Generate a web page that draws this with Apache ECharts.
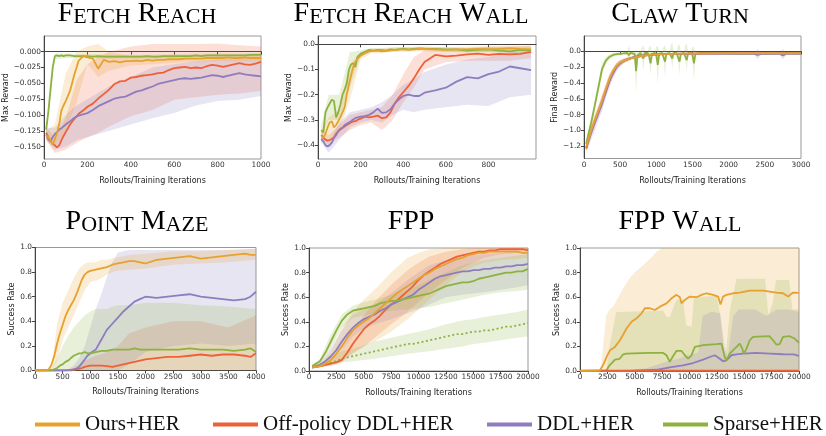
<!DOCTYPE html>
<html>
<head>
<meta charset="utf-8">
<script src="https://cdn.jsdelivr.net/npm/echarts@6/dist/echarts.min.js"></script>
<style>
  html, body { margin: 0; padding: 0; background: #fff; }
  #chart { width: 826px; height: 436px; }
</style>
</head>
<body>
<div id="chart"></div>
<script>
// ---- tick labels ----
var reachXTicks = [0, 200, 400, 600, 800, 1000];
var reachYTicks = [-0.15, -0.125, -0.1, -0.075, -0.05, -0.025, 0];
var wallXTicks = [0, 200, 400, 600, 800];
var wallYTicks = [-0.4, -0.3, -0.2, -0.1, 0];
var clawXTicks = [0, 500, 1000, 1500, 2000, 2500, 3000];
var clawYTicks = [-1.2, -1.0, -0.8, -0.6, -0.4, -0.2, 0];
var mazeXTicks = [0, 500, 1000, 1500, 2000, 2500, 3000, 3500, 4000];
var fppXTicks = [0, 2500, 5000, 7500, 10000, 12500, 15000, 17500, 20000];
var rateTicks = [0, 0.2, 0.4, 0.6, 0.8, 1.0];

// ---- Fetch Reach ----
var reachX = [10,20,30,40,50,60,70,80,90,100,120,140,160,180,200,225,250,275,300,325,350,375,400,425,450,475,500,525,550,575,600,625,650,675,700,725,750,775,800,825,850,875,900,925,950,975,1000];
var reachOurs = [-0.132,-0.135,-0.140,-0.147,-0.138,-0.128,-0.115,-0.093,-0.085,-0.078,-0.062,-0.036,-0.014,-0.007,-0.009,-0.011,-0.027,-0.013,-0.016,-0.015,-0.017,-0.015,-0.015,-0.014,-0.015,-0.013,-0.014,-0.013,-0.013,-0.012,-0.012,-0.012,-0.011,-0.011,-0.011,-0.011,-0.010,-0.010,-0.010,-0.010,-0.009,-0.010,-0.010,-0.009,-0.010,-0.010,-0.010];
var reachOff = [-0.128,-0.135,-0.141,-0.145,-0.148,-0.151,-0.148,-0.140,-0.133,-0.127,-0.115,-0.106,-0.098,-0.093,-0.087,-0.082,-0.074,-0.067,-0.060,-0.051,-0.047,-0.046,-0.041,-0.040,-0.038,-0.037,-0.036,-0.034,-0.033,-0.029,-0.026,-0.025,-0.024,-0.026,-0.025,-0.026,-0.023,-0.021,-0.022,-0.024,-0.022,-0.020,-0.018,-0.020,-0.021,-0.019,-0.016];
var reachDdl = [-0.131,-0.138,-0.142,-0.135,-0.130,-0.127,-0.123,-0.121,-0.118,-0.115,-0.110,-0.104,-0.101,-0.099,-0.097,-0.092,-0.086,-0.082,-0.078,-0.074,-0.072,-0.071,-0.067,-0.063,-0.061,-0.058,-0.055,-0.051,-0.049,-0.047,-0.045,-0.043,-0.042,-0.043,-0.042,-0.041,-0.039,-0.037,-0.038,-0.040,-0.038,-0.036,-0.034,-0.036,-0.037,-0.038,-0.039];
var reachSparse = [-0.123,-0.095,-0.060,-0.025,-0.007,-0.006,-0.007,-0.006,-0.007,-0.006,-0.006,-0.007,-0.007,-0.007,-0.007,-0.008,-0.007,-0.008,-0.008,-0.008,-0.008,-0.008,-0.008,-0.008,-0.008,-0.007,-0.008,-0.008,-0.007,-0.007,-0.007,-0.007,-0.007,-0.007,-0.006,-0.007,-0.006,-0.006,-0.006,-0.006,-0.006,-0.006,-0.006,-0.006,-0.005,-0.005,-0.005];
var reachBandX = [10,50,100,150,200,250,300,400,500,600,700,800,900,1000];
var reachOursLo = [-0.14,-0.15,-0.125,-0.08,-0.02,-0.04,-0.03,-0.022,-0.02,-0.018,-0.016,-0.015,-0.015,-0.015];
var reachOursHi = [-0.125,-0.115,-0.035,0.0,0.008,0.012,0.0,-0.007,-0.007,-0.006,-0.005,-0.005,-0.005,-0.005];
var reachOffLo = [-0.14,-0.16,-0.155,-0.144,-0.135,-0.128,-0.118,-0.102,-0.092,-0.076,-0.072,-0.068,-0.066,-0.062];
var reachOffHi = [-0.12,-0.135,-0.105,-0.045,-0.02,-0.008,0.0,0.008,0.012,0.012,0.012,0.013,0.010,0.008];
var reachDdlLo = [-0.14,-0.155,-0.15,-0.14,-0.135,-0.13,-0.125,-0.115,-0.105,-0.097,-0.085,-0.078,-0.076,-0.07];
var reachDdlHi = [-0.12,-0.12,-0.1,-0.085,-0.075,-0.065,-0.055,-0.04,-0.025,-0.02,-0.015,-0.012,-0.01,-0.008];
var reachSparseLo = [-0.13,-0.012,-0.010,-0.010,-0.010,-0.011,-0.011,-0.011,-0.011,-0.010,-0.009,-0.009,-0.009,-0.008];
var reachSparseHi = [-0.115,-0.003,-0.003,-0.004,-0.004,-0.004,-0.005,-0.005,-0.005,-0.004,-0.003,-0.003,-0.003,-0.002];

// ---- Fetch Reach Wall ----
var wallX = [15,25,35,45,55,65,75,85,95,105,115,125,135,145,155,165,175,185,200,220,240,260,280,300,320,340,360,380,400,425,450,475,500,550,600,650,700,750,800,850,900,950,1000];
var wallOurs = [-0.365,-0.37,-0.355,-0.33,-0.31,-0.305,-0.33,-0.32,-0.305,-0.29,-0.27,-0.25,-0.2,-0.16,-0.125,-0.09,-0.07,-0.058,-0.045,-0.035,-0.028,-0.026,-0.025,-0.028,-0.026,-0.024,-0.022,-0.02,-0.02,-0.022,-0.02,-0.018,-0.018,-0.02,-0.022,-0.02,-0.02,-0.018,-0.02,-0.018,-0.015,-0.018,-0.02];
var wallOff = [-0.36,-0.37,-0.378,-0.382,-0.38,-0.375,-0.37,-0.355,-0.345,-0.338,-0.332,-0.326,-0.32,-0.315,-0.31,-0.306,-0.305,-0.3,-0.295,-0.287,-0.29,-0.287,-0.283,-0.293,-0.29,-0.27,-0.235,-0.21,-0.19,-0.165,-0.135,-0.1,-0.07,-0.042,-0.048,-0.045,-0.04,-0.037,-0.042,-0.038,-0.04,-0.038,-0.03];
var wallDdl = [-0.375,-0.385,-0.4,-0.405,-0.4,-0.39,-0.37,-0.36,-0.345,-0.335,-0.33,-0.32,-0.315,-0.31,-0.305,-0.298,-0.293,-0.29,-0.287,-0.285,-0.28,-0.27,-0.255,-0.272,-0.27,-0.258,-0.235,-0.218,-0.205,-0.2,-0.205,-0.205,-0.192,-0.183,-0.172,-0.148,-0.13,-0.135,-0.118,-0.108,-0.088,-0.095,-0.102];
var wallSparse = [-0.34,-0.35,-0.27,-0.25,-0.235,-0.22,-0.225,-0.29,-0.27,-0.24,-0.2,-0.18,-0.155,-0.1,-0.08,-0.075,-0.09,-0.05,-0.038,-0.03,-0.022,-0.025,-0.022,-0.023,-0.025,-0.02,-0.022,-0.02,-0.018,-0.02,-0.018,-0.016,-0.017,-0.018,-0.02,-0.02,-0.025,-0.022,-0.02,-0.025,-0.028,-0.022,-0.025];
var wallBandX = [15,50,100,150,200,250,300,350,400,450,500,600,700,800,900,1000];
var wallOursLo = [-0.39,-0.38,-0.34,-0.22,-0.06,-0.035,-0.035,-0.03,-0.03,-0.028,-0.028,-0.03,-0.03,-0.03,-0.028,-0.03];
var wallOursHi = [-0.34,-0.29,-0.26,-0.08,-0.03,-0.018,-0.018,-0.015,-0.012,-0.012,-0.01,-0.012,-0.01,-0.008,-0.005,-0.008];
var wallOffLo = [-0.38,-0.4,-0.37,-0.34,-0.32,-0.31,-0.34,-0.3,-0.23,-0.17,-0.1,-0.07,-0.065,-0.065,-0.065,-0.055];
var wallOffHi = [-0.34,-0.36,-0.32,-0.28,-0.27,-0.26,-0.25,-0.2,-0.12,-0.05,-0.025,-0.02,-0.015,-0.01,-0.01,-0.005];
var wallDdlLo = [-0.39,-0.43,-0.38,-0.33,-0.31,-0.3,-0.31,-0.28,-0.26,-0.27,-0.26,-0.25,-0.24,-0.245,-0.21,-0.2];
var wallDdlHi = [-0.36,-0.39,-0.31,-0.27,-0.26,-0.25,-0.23,-0.2,-0.16,-0.14,-0.11,-0.08,-0.06,-0.05,-0.03,-0.03];
var wallSparseLo = [-0.37,-0.3,-0.3,-0.17,-0.05,-0.03,-0.03,-0.028,-0.025,-0.025,-0.025,-0.028,-0.032,-0.03,-0.035,-0.035];
var wallSparseHi = [-0.32,-0.2,-0.2,-0.03,-0.025,-0.015,-0.015,-0.012,-0.01,-0.01,-0.01,-0.012,-0.015,-0.01,-0.015,-0.012];

// ---- Claw Turn ----
var clawX = [30,60,100,150,200,250,300,350,400,450,500,550,600,650,700,800,900,1000,1200,1400,1600,1800,2000,2200,2350,2400,2450,2700,2750,2800,3000];
var clawOurs = [-1.21,-1.12,-1.0,-0.87,-0.75,-0.62,-0.48,-0.35,-0.25,-0.18,-0.14,-0.12,-0.1,-0.085,-0.075,-0.058,-0.045,-0.038,-0.03,-0.028,-0.027,-0.026,-0.025,-0.025,-0.024,-0.024,-0.024,-0.024,-0.024,-0.024,-0.025];
var clawOff = [-1.23,-1.13,-1.01,-0.88,-0.76,-0.63,-0.5,-0.37,-0.27,-0.19,-0.15,-0.12,-0.1,-0.085,-0.072,-0.056,-0.045,-0.037,-0.03,-0.027,-0.026,-0.026,-0.025,-0.025,-0.025,-0.025,-0.025,-0.025,-0.025,-0.025,-0.025];
var clawDdl = [-1.22,-1.14,-1.03,-0.9,-0.78,-0.66,-0.52,-0.38,-0.28,-0.2,-0.15,-0.12,-0.1,-0.085,-0.07,-0.055,-0.045,-0.038,-0.032,-0.03,-0.03,-0.03,-0.03,-0.03,-0.03,-0.045,-0.03,-0.03,-0.05,-0.03,-0.03];
var clawOursLo = [-1.25,-1.17,-1.05,-0.93,-0.81,-0.68,-0.54,-0.4,-0.29,-0.21,-0.17,-0.14,-0.12,-0.1,-0.09,-0.07,-0.055,-0.047,-0.04,-0.037,-0.035,-0.034,-0.033,-0.033,-0.032,-0.032,-0.032,-0.032,-0.032,-0.032,-0.033];
var clawOursHi = [-1.17,-1.07,-0.95,-0.81,-0.69,-0.56,-0.42,-0.3,-0.21,-0.15,-0.11,-0.1,-0.08,-0.07,-0.06,-0.046,-0.035,-0.029,-0.022,-0.02,-0.019,-0.018,-0.017,-0.017,-0.016,-0.016,-0.016,-0.016,-0.016,-0.016,-0.017];
var clawOffLo = [-1.27,-1.2,-1.08,-0.96,-0.84,-0.72,-0.58,-0.45,-0.33,-0.24,-0.19,-0.15,-0.13,-0.11,-0.095,-0.075,-0.06,-0.05,-0.04,-0.036,-0.035,-0.034,-0.033,-0.033,-0.033,-0.033,-0.033,-0.033,-0.033,-0.033,-0.033];
var clawOffHi = [-1.19,-1.06,-0.94,-0.8,-0.68,-0.54,-0.42,-0.29,-0.21,-0.14,-0.11,-0.09,-0.07,-0.06,-0.05,-0.037,-0.03,-0.024,-0.02,-0.018,-0.018,-0.017,-0.017,-0.017,-0.017,-0.017,-0.017,-0.017,-0.017,-0.017,-0.017];
var clawDdlLo = [-1.27,-1.22,-1.12,-1.0,-0.87,-0.75,-0.6,-0.46,-0.34,-0.25,-0.19,-0.15,-0.12,-0.1,-0.085,-0.068,-0.056,-0.048,-0.042,-0.04,-0.04,-0.04,-0.04,-0.04,-0.04,-0.1,-0.04,-0.04,-0.1,-0.045,-0.04];
var clawDdlHi = [-1.17,-1.06,-0.94,-0.8,-0.69,-0.57,-0.44,-0.3,-0.22,-0.15,-0.11,-0.09,-0.08,-0.07,-0.055,-0.042,-0.034,-0.028,-0.022,-0.02,-0.02,-0.02,-0.02,-0.02,-0.02,0.03,-0.02,-0.02,0.03,-0.02,-0.02];
var clawSparseX = [30,60,100,150,200,250,300,350,400,450,500,550,600,620,640,660,700,720,740,780,800,820,840,880,900,920,940,980,1000,1020,1040,1080,1100,1120,1140,1180,1200,1220,1240,1280,1300,1320,1340,1380,1400,1420,1440,1480,1500,1520,1540,1600,1800,2000,2200,2400,2600,2800,3000];
var clawSparse = [-1.17,-1.05,-0.9,-0.68,-0.45,-0.22,-0.12,-0.07,-0.045,-0.035,-0.03,-0.025,-0.02,-0.05,-0.02,-0.02,-0.03,-0.25,-0.05,-0.02,-0.03,-0.09,-0.02,-0.02,-0.06,-0.15,-0.03,-0.02,-0.05,-0.17,-0.03,-0.02,-0.04,-0.13,-0.03,-0.02,-0.03,-0.09,-0.02,-0.02,-0.04,-0.13,-0.03,-0.02,-0.04,-0.11,-0.02,-0.02,-0.05,-0.15,-0.03,-0.02,-0.02,-0.02,-0.025,-0.025,-0.025,-0.02,-0.02];
var clawSparseLo = [-1.22,-1.1,-0.96,-0.75,-0.52,-0.3,-0.17,-0.1,-0.07,-0.06,-0.05,-0.04,-0.04,-0.12,-0.04,-0.04,-0.06,-0.55,-0.1,-0.04,-0.06,-0.24,-0.04,-0.04,-0.12,-0.3,-0.05,-0.04,-0.1,-0.42,-0.06,-0.04,-0.08,-0.33,-0.05,-0.04,-0.06,-0.22,-0.04,-0.04,-0.08,-0.3,-0.05,-0.04,-0.08,-0.25,-0.04,-0.04,-0.1,-0.38,-0.05,-0.04,-0.035,-0.035,-0.04,-0.04,-0.04,-0.035,-0.035];
var clawSparseHi = [-1.12,-1.0,-0.84,-0.61,-0.38,-0.15,-0.07,-0.04,-0.02,-0.015,-0.01,-0.01,0.0,0.08,0.0,-0.005,0.0,0.02,0.0,0.0,0.05,0.08,0.0,0.0,0.06,0.07,0.0,0.0,0.06,0.07,0.0,0.0,0.06,0.08,0.0,0.0,0.08,0.11,0.0,0.0,0.08,0.09,0.0,0.0,0.08,0.1,0.0,0.0,0.06,0.05,0.0,-0.005,-0.005,-0.005,-0.01,-0.01,-0.01,-0.005,-0.005];

// ---- Point Maze ----
var mazeX = [0,100,200,250,300,350,400,450,500,550,600,650,700,750,800,850,900,950,1000,1100,1200,1300,1400,1500,1600,1700,1800,1900,2000,2200,2400,2600,2800,3000,3200,3400,3600,3800,3900,4000];
var mazeOurs = [0,0,0,0.01,0.05,0.12,0.22,0.3,0.37,0.44,0.49,0.53,0.57,0.62,0.68,0.74,0.78,0.8,0.81,0.82,0.83,0.84,0.86,0.87,0.88,0.89,0.89,0.88,0.87,0.9,0.91,0.92,0.93,0.91,0.92,0.93,0.94,0.95,0.94,0.94];
var mazeOff = [0,0,0,0,0,0,0,0,0,0,0,0,0.005,0.01,0.015,0.02,0.03,0.035,0.04,0.04,0.04,0.035,0.03,0.04,0.05,0.06,0.07,0.08,0.09,0.1,0.11,0.11,0.12,0.13,0.12,0.13,0.13,0.12,0.11,0.14];
var mazeDdl = [0,0,0,0,0,0,0,0,0,0,0.003,0.005,0.01,0.015,0.03,0.06,0.09,0.12,0.14,0.17,0.25,0.33,0.38,0.43,0.48,0.52,0.56,0.58,0.6,0.59,0.6,0.61,0.62,0.6,0.59,0.58,0.57,0.58,0.6,0.64];
var mazeSparse = [0,0,0,0,0,0.01,0.02,0.04,0.05,0.07,0.08,0.1,0.12,0.13,0.14,0.14,0.15,0.14,0.14,0.15,0.16,0.16,0.17,0.17,0.17,0.17,0.18,0.17,0.17,0.17,0.17,0.17,0.18,0.17,0.17,0.17,0.16,0.17,0.18,0.15];
var mazeBandX = [0,200,300,400,500,600,700,800,900,1000,1100,1200,1300,1400,1500,1700,2000,2500,3000,3500,4000];
var mazeOursLo = [0,0,0,0.08,0.25,0.35,0.45,0.55,0.65,0.72,0.73,0.75,0.78,0.8,0.81,0.82,0.83,0.86,0.87,0.88,0.9];
var mazeOursHi = [0,0,0.03,0.38,0.55,0.65,0.75,0.83,0.87,0.88,0.88,0.9,0.9,0.91,0.92,0.94,0.95,0.97,0.97,0.98,0.99];
var mazeOffLo = [0,0,0,0,0,0,0,0,0,0,0,0,0,0,0,0,0,0,0,0,0];
var mazeOffHi = [0,0,0,0,0,0,0.02,0.05,0.08,0.1,0.12,0.13,0.15,0.17,0.2,0.3,0.35,0.4,0.4,0.35,0.45];
var mazeDdlLo = [0,0,0,0,0,0,0,0,0,0,0,0,0,0,0,0.05,0.15,0.2,0.22,0.2,0.22];
var mazeDdlHi = [0,0,0,0,0,0.01,0.04,0.1,0.2,0.35,0.5,0.62,0.76,0.88,0.96,0.98,0.98,0.98,0.98,0.98,0.99];
var mazeSparseLo = [0,0,0,0,0,0,0,0,0,0,0,0,0,0,0,0,0,0,0,0,0];
var mazeSparseHi = [0,0,0.01,0.1,0.2,0.28,0.35,0.4,0.45,0.48,0.5,0.5,0.5,0.52,0.53,0.53,0.55,0.55,0.53,0.52,0.5];

// ---- FPP ----
var fppX = [300,1000,1500,2000,2500,3000,3500,4000,4500,5000,5500,6000,6500,7000,7500,8000,8500,9000,9500,10000,10500,11000,11500,12000,12500,13000,13500,14000,14500,15000,15500,16000,16500,17000,17500,18000,18500,19000,19500,20000];
var fppOurs = [0.03,0.04,0.06,0.09,0.14,0.2,0.27,0.33,0.37,0.4,0.43,0.47,0.51,0.55,0.59,0.63,0.66,0.69,0.72,0.75,0.78,0.8,0.83,0.85,0.87,0.89,0.91,0.92,0.94,0.95,0.96,0.96,0.97,0.97,0.97,0.97,0.97,0.97,0.96,0.96];
var fppOff = [0.03,0.04,0.05,0.06,0.07,0.09,0.15,0.22,0.28,0.34,0.38,0.41,0.45,0.5,0.54,0.57,0.61,0.65,0.69,0.74,0.78,0.81,0.84,0.87,0.89,0.91,0.93,0.94,0.95,0.96,0.97,0.97,0.98,0.98,0.99,0.99,0.99,0.99,0.99,0.98];
var fppDdl = [0.03,0.05,0.08,0.12,0.17,0.24,0.3,0.35,0.39,0.42,0.44,0.46,0.49,0.51,0.54,0.56,0.58,0.6,0.62,0.66,0.69,0.72,0.75,0.77,0.78,0.79,0.8,0.81,0.81,0.82,0.82,0.83,0.83,0.84,0.84,0.85,0.85,0.86,0.86,0.87];
var fppSparse = [0.04,0.08,0.15,0.24,0.33,0.41,0.46,0.49,0.5,0.51,0.52,0.53,0.55,0.56,0.57,0.57,0.58,0.59,0.6,0.61,0.62,0.63,0.65,0.67,0.69,0.7,0.71,0.72,0.72,0.73,0.75,0.76,0.77,0.78,0.79,0.8,0.8,0.81,0.81,0.83];
var fppSparseNoHer = [0.03,0.04,0.05,0.07,0.08,0.1,0.11,0.12,0.13,0.14,0.15,0.16,0.17,0.18,0.19,0.2,0.21,0.22,0.22,0.23,0.24,0.25,0.26,0.27,0.28,0.29,0.3,0.3,0.31,0.32,0.32,0.33,0.33,0.34,0.35,0.36,0.36,0.37,0.38,0.39];
var fppBandX = [300,1000,2000,2500,3000,4000,5000,6000,7500,9000,10000,11000,12500,14000,15000,16000,17500,19000,20000];
var fppOursLo = [0.02,0.03,0.05,0.07,0.1,0.15,0.2,0.24,0.32,0.42,0.5,0.58,0.7,0.8,0.85,0.88,0.9,0.91,0.92];
var fppOursHi = [0.04,0.06,0.16,0.25,0.35,0.48,0.58,0.66,0.8,0.92,0.96,0.99,1.0,1.0,1.0,1.0,1.0,1.0,1.0];
var fppOffLo = [0.02,0.03,0.04,0.05,0.07,0.14,0.2,0.27,0.38,0.48,0.56,0.64,0.74,0.84,0.88,0.92,0.95,0.96,0.96];
var fppOffHi = [0.04,0.05,0.09,0.12,0.17,0.34,0.45,0.56,0.7,0.82,0.88,0.93,0.97,0.99,1.0,1.0,1.0,1.0,1.0];
var fppDdlLo = [0.02,0.03,0.08,0.12,0.17,0.28,0.35,0.38,0.42,0.47,0.5,0.54,0.6,0.62,0.63,0.64,0.66,0.68,0.7];
var fppDdlHi = [0.04,0.07,0.18,0.26,0.33,0.46,0.5,0.54,0.63,0.74,0.8,0.86,0.9,0.93,0.94,0.95,0.96,0.97,0.97];
var fppSparseLo = [0.03,0.06,0.18,0.27,0.35,0.43,0.45,0.47,0.49,0.5,0.51,0.52,0.55,0.58,0.6,0.62,0.64,0.65,0.66];
var fppSparseHi = [0.05,0.1,0.3,0.38,0.46,0.53,0.56,0.58,0.62,0.66,0.7,0.74,0.8,0.86,0.88,0.9,0.92,0.94,0.95];
var fppNoHerLo = [0.02,0.03,0.05,0.06,0.07,0.08,0.09,0.1,0.12,0.14,0.15,0.16,0.18,0.2,0.22,0.23,0.25,0.27,0.28];
var fppNoHerHi = [0.04,0.06,0.12,0.14,0.16,0.18,0.21,0.24,0.27,0.3,0.32,0.34,0.38,0.41,0.42,0.44,0.46,0.48,0.5];

// ---- FPP Wall ----
var fwOursX = [0,1800,2100,2430,2740,3190,3650,4250,4710,5170,5620,5930,6380,6840,7300,7900,8360,8820,9120,9270,9570,10030,10640,11090,11550,12160,12610,12830,13070,13370,13980,14590,15500,16720,17930,18540,19000,19450,20000];
var fwOurs = [0,0.005,0.046,0.114,0.169,0.196,0.25,0.346,0.4,0.428,0.469,0.51,0.51,0.496,0.523,0.55,0.591,0.619,0.6,0.55,0.578,0.605,0.6,0.619,0.632,0.619,0.605,0.54,0.605,0.619,0.632,0.638,0.654,0.654,0.638,0.632,0.605,0.638,0.635];
var fwOffX = [0,5000,10000,15000,20000];
var fwOff = [0.002,0.002,0.002,0.002,0.002];
var fwDdlX = [0,2500,5000,7000,8200,9400,10330,11250,11850,12310,12770,13070,13370,13830,14290,14890,16110,17330,18540,19500,20000];
var fwDdl = [0,0,0.002,0.01,0.03,0.046,0.065,0.093,0.114,0.128,0.1,0.079,0.087,0.128,0.136,0.142,0.147,0.142,0.136,0.135,0.123];
var fwSparseX = [0,2400,2700,3200,3600,3950,4250,4850,6400,7600,7900,8200,8450,8800,9270,9570,9880,10180,10490,11250,12460,12920,13220,13370,13680,14290,14590,14830,14950,15200,15500,15800,17300,17630,17930,18240,18540,19150,19600,20000];
var fwSparse = [0,0.005,0.046,0.093,0.098,0.136,0.142,0.144,0.147,0.147,0.128,0.074,0.114,0.163,0.163,0.128,0.1,0.128,0.196,0.21,0.218,0.223,0.114,0.087,0.142,0.196,0.223,0.18,0.14,0.18,0.25,0.278,0.283,0.25,0.215,0.218,0.278,0.283,0.264,0.229];
var fwOursBandX = [0,1900,2100,2400,2700,3000,3500,4000,4500,5000,5500,6000,6500,7000,7500,20000];
var fwOursLo = [0,0,0,0,0,0,0,0,0,0,0,0,0,0,0,0];
var fwOursHi = [0,0,0.2,0.45,0.5,0.52,0.6,0.68,0.75,0.8,0.84,0.88,0.92,0.97,1.0,1.0];
var fwSparseBandX = [2400,2700,3300,7600,7900,8200,8800,9400,9700,10200,10400,12500,12800,13100,13300,13700,14300,16900,17200,17600,17900,19100,19400,20000];
var fwSparseLo = [0,0,0,0,0,0,0,0,0,0,0,0,0,0,0,0,0,0,0,0,0,0,0,0];
var fwSparseHi = [0,0.2,0.48,0.49,0.44,0.44,0.58,0.58,0.37,0.36,0.6,0.61,0.45,0.2,0.12,0.5,0.75,0.75,0.45,0.55,0.74,0.74,0.5,0.5];
var fwDdlBandX = [2500,6000,7000,8000,9000,10000,10800,11200,12000,12800,13200,13500,14000,14500,15000,16000,17000,18000,19000,20000];
var fwDdlLo = [0,0,0,0,0,0,0,0,0,0,0,0,0,0,0,0,0,0,0,0];
var fwDdlHi = [0,0.02,0.05,0.08,0.1,0.13,0.15,0.45,0.48,0.47,0.2,0.12,0.45,0.5,0.5,0.5,0.45,0.5,0.5,0.48];

// ---- style ----
var OURS = '#E6A12E', OFF = '#EE6138', DDL = '#8E7DBE', SPARSE = '#8DB23F';
var NAMES = ['Ours+HER', 'Off-policy DDL+HER', 'DDL+HER', 'Sparse+HER'];
var TICK_FONT = 'DejaVu Sans';
var SERIF = 'Liberation Serif';

function fade(hex, a) {
    var n = parseInt(hex.slice(1), 16);
    return 'rgba(' + (n >> 16) + ',' + ((n >> 8) & 255) + ',' + (n & 255) + ',' + a + ')';
}

function pairs(xs, ys) {
    return xs.map(function (x, i) { return [x, ys[i]]; });
}

function line(g, name, color, xs, ys, dotted) {
    return {
        type: 'line', name: name, xAxisIndex: g, yAxisIndex: g,
        data: pairs(xs, ys), showSymbol: false, symbol: 'none',
        color: color, silent: true, clip: true,
        lineStyle: { color: color, width: 1.8, type: dotted ? [2, 2.5] : 'solid' },
        z: 3
    };
}

// shaded std band drawn as one polygon through the axes' own coord()
function band(g, color, xs, lo, hi) {
    return {
        type: 'custom', xAxisIndex: g, yAxisIndex: g, silent: true, clip: true, z: 1,
        data: [[xs[0], lo[0]]],
        renderItem: function (params, api) {
            var pts = [], i;
            for (i = 0; i < xs.length; i++) pts.push(api.coord([xs[i], hi[i]]));
            for (i = xs.length - 1; i >= 0; i--) pts.push(api.coord([xs[i], lo[i]]));
            return { type: 'polygon', shape: { points: pts }, style: { fill: fade(color, 0.2) } };
        }
    };
}

var panels = [
    { left: 44, top: 36, width: 217, height: 123, xMin: 0, xMax: 1000, yMin: -0.1694, yMax: 0.0247,
      xTicks: reachXTicks, yTicks: reachYTicks, yDec: 3, yName: 'Max Reward', yGap: 27, xGap: 18 },
    { left: 318, top: 36, width: 218, height: 123, xMin: 0, xMax: 1023, yMin: -0.455, yMax: 0.033,
      xTicks: wallXTicks, yTicks: wallYTicks, yDec: 1, yName: 'Max Reward', yGap: 23, xGap: 18 },
    { left: 584, top: 36, width: 217, height: 122.5, xMin: 0, xMax: 3000, yMin: -1.355, yMax: 0.195,
      xTicks: clawXTicks, yTicks: clawYTicks, yDec: 1, yName: 'Final Reward', yGap: 23, xGap: 18 },
    { left: 35, top: 247.5, width: 221, height: 123, xMin: 0, xMax: 4000, yMin: 0, yMax: 1,
      xTicks: mazeXTicks, yTicks: rateTicks, yDec: 1, yName: 'Success Rate', yGap: 17, xGap: 17.5 },
    { left: 309, top: 248, width: 219, height: 123, xMin: 0, xMax: 20000, yMin: 0, yMax: 1,
      xTicks: fppXTicks, yTicks: rateTicks, yDec: 1, yName: 'Success Rate', yGap: 18, xGap: 17.5 },
    { left: 580, top: 248, width: 219, height: 123, xMin: 0, xMax: 20000, yMin: 0, yMax: 1,
      xTicks: fppXTicks, yTicks: rateTicks, yDec: 1, yName: 'Success Rate', yGap: 18, xGap: 17.5 }
];

var grids = [], xAxes = [], yAxes = [];
panels.forEach(function (p, i) {
    grids.push({ left: p.left, top: p.top, width: p.width, height: p.height, show: true,
                 borderColor: '#999', borderWidth: 1, backgroundColor: 'transparent' });
    var common = {
        type: 'value', gridIndex: i, splitLine: { show: false },
        axisLine: { show: true, lineStyle: { color: '#444', width: 1 } },
        nameLocation: 'middle',
        nameTextStyle: { fontFamily: TICK_FONT, fontSize: 8, color: '#222' }
    };
    xAxes.push(Object.assign({}, common, {
        min: p.xMin, max: p.xMax, name: 'Rollouts/Training Iterations', nameGap: p.xGap,
        axisTick: { show: true, customValues: p.xTicks, length: 3, lineStyle: { color: '#444' } },
        axisLabel: { customValues: p.xTicks, fontFamily: TICK_FONT, fontSize: 7.4, color: '#333', margin: 3,
                     formatter: function (v) { return String(Math.round(v)); } }
    }));
    yAxes.push(Object.assign({}, common, {
        min: p.yMin, max: p.yMax, name: p.yName, nameGap: p.yGap, nameRotate: 90,
        axisTick: { show: true, customValues: p.yTicks, length: 3, lineStyle: { color: '#444' } },
        axisLabel: { customValues: p.yTicks, fontFamily: TICK_FONT, fontSize: 7.4, color: '#333', margin: 3,
                     formatter: function (v) { return v.toFixed(p.yDec).replace('-', '\u2212'); } }
    }));
});

var series = [
    // bands
    band(0, OFF, reachBandX, reachOffLo, reachOffHi),
    band(0, DDL, reachBandX, reachDdlLo, reachDdlHi),
    band(0, SPARSE, reachBandX, reachSparseLo, reachSparseHi),
    band(0, OURS, reachBandX, reachOursLo, reachOursHi),
    band(1, OFF, wallBandX, wallOffLo, wallOffHi),
    band(1, DDL, wallBandX, wallDdlLo, wallDdlHi),
    band(1, SPARSE, wallBandX, wallSparseLo, wallSparseHi),
    band(1, OURS, wallBandX, wallOursLo, wallOursHi),
    band(2, OFF, clawX, clawOffLo, clawOffHi),
    band(2, DDL, clawX, clawDdlLo, clawDdlHi),
    band(2, SPARSE, clawSparseX, clawSparseLo, clawSparseHi),
    band(2, OURS, clawX, clawOursLo, clawOursHi),
    band(3, OFF, mazeBandX, mazeOffLo, mazeOffHi),
    band(3, DDL, mazeBandX, mazeDdlLo, mazeDdlHi),
    band(3, SPARSE, mazeBandX, mazeSparseLo, mazeSparseHi),
    band(3, OURS, mazeBandX, mazeOursLo, mazeOursHi),
    band(4, OFF, fppBandX, fppOffLo, fppOffHi),
    band(4, DDL, fppBandX, fppDdlLo, fppDdlHi),
    band(4, SPARSE, fppBandX, fppSparseLo, fppSparseHi),
    band(4, SPARSE, fppBandX, fppNoHerLo, fppNoHerHi),
    band(4, OURS, fppBandX, fppOursLo, fppOursHi),
    band(5, OURS, fwOursBandX, fwOursLo, fwOursHi),
    band(5, SPARSE, fwSparseBandX, fwSparseLo, fwSparseHi),
    band(5, DDL, fwDdlBandX, fwDdlLo, fwDdlHi),
    // mean curves
    line(0, NAMES[1], OFF, reachX, reachOff),
    line(0, NAMES[2], DDL, reachX, reachDdl),
    line(0, NAMES[3], SPARSE, reachX, reachSparse),
    line(0, NAMES[0], OURS, reachX, reachOurs),
    line(1, NAMES[1], OFF, wallX, wallOff),
    line(1, NAMES[2], DDL, wallX, wallDdl),
    line(1, NAMES[3], SPARSE, wallX, wallSparse),
    line(1, NAMES[0], OURS, wallX, wallOurs),
    line(2, NAMES[3], SPARSE, clawSparseX, clawSparse),
    line(2, NAMES[1], OFF, clawX, clawOff),
    line(2, NAMES[2], DDL, clawX, clawDdl),
    line(2, NAMES[0], OURS, clawX, clawOurs),
    line(3, NAMES[1], OFF, mazeX, mazeOff),
    line(3, NAMES[2], DDL, mazeX, mazeDdl),
    line(3, NAMES[3], SPARSE, mazeX, mazeSparse),
    line(3, NAMES[0], OURS, mazeX, mazeOurs),
    line(4, 'Sparse', SPARSE, fppX, fppSparseNoHer, true),
    line(4, NAMES[1], OFF, fppX, fppOff),
    line(4, NAMES[2], DDL, fppX, fppDdl),
    line(4, NAMES[3], SPARSE, fppX, fppSparse),
    line(4, NAMES[0], OURS, fppX, fppOurs),
    line(5, NAMES[2], DDL, fwDdlX, fwDdl),
    line(5, NAMES[3], SPARSE, fwSparseX, fwSparse),
    line(5, NAMES[1], OFF, fwOffX, fwOff),
    line(5, NAMES[0], OURS, fwOursX, fwOurs)
];

// small-caps titles: big capital + smaller capitals
var titleRich = {
    c: { fontFamily: SERIF, fontSize: 28, lineHeight: 28, color: '#111', verticalAlign: 'bottom' },
    s: { fontFamily: SERIF, fontSize: 22, lineHeight: 24, color: '#111', verticalAlign: 'bottom' }
};
var titles = [
    { x: 137, y: 28, text: '{c|F}{s|ETCH}{c| R}{s|EACH}' },
    { x: 411, y: 28, text: '{c|F}{s|ETCH}{c| R}{s|EACH}{c| W}{s|ALL}' },
    { x: 680, y: 28, text: '{c|C}{s|LAW}{c| T}{s|URN}' },
    { x: 137, y: 236, text: '{c|P}{s|OINT}{c| M}{s|AZE}' },
    { x: 411, y: 236, text: '{c|FPP}' },
    { x: 680, y: 236, text: '{c|FPP W}{s|ALL}' }
];

var legendLefts = [30, 208, 482, 658];
var legends = NAMES.map(function (n, i) {
    return {
        data: [n], left: legendLefts[i], top: 409, orient: 'horizontal',
        icon: 'rect', itemWidth: 45, itemHeight: 4, selectedMode: false,
        textStyle: { fontFamily: SERIF, fontSize: 21, color: '#111' }
    };
});

var chart = echarts.init(document.getElementById('chart'), null, { renderer: 'canvas' });
chart.setOption({
    animation: false,
    backgroundColor: '#fff',
    grid: grids,
    xAxis: xAxes,
    yAxis: yAxes,
    legend: legends,
    graphic: titles.map(function (t) {
        return { type: 'text', x: t.x, y: t.y, silent: true,
                 style: { text: t.text, rich: titleRich, align: 'center', verticalAlign: 'bottom' } };
    }),
    series: series
});
</script>
</body>
</html>
